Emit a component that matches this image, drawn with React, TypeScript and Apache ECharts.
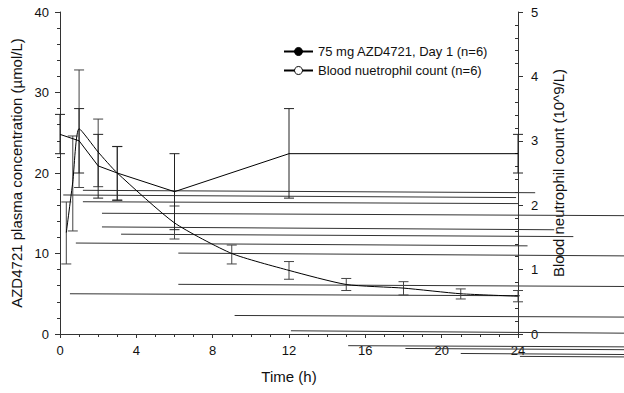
import React, { useEffect, useRef } from "react";
import * as echarts from "echarts";

// ---- Data ----
const xTicks = [0, 4, 8, 12, 16, 20, 24];
const leftTicks = [0, 10, 20, 30, 40];
const rightTicks = [0, 1, 2, 3, 4, 5];

const plasmaName = "75 mg AZD4721, Day 1 (n=6)";
const plasmaTime = [0.33, 0.67, 1, 2, 3, 6, 9, 12, 15, 18, 21, 24];
const plasmaMean = [12.6, 18.9, 25.5, 22.6, 20.0, 13.8, 10.0, 7.9, 6.15, 5.7, 5.0, 4.7];
const plasmaLow = [8.7, 12.8, 18.2, 18.3, 16.6, 11.8, 8.7, 6.8, 5.4, 4.85, 4.35, 4.0];
const plasmaHigh = [16.4, 24.6, 32.8, 26.7, 23.3, 15.9, 11.05, 9.0, 6.9, 6.5, 5.6, 5.4];

const neutName = "Blood nuetrophil count (n=6)";
const neutTime = [0, 1, 2, 3, 6, 12, 24];
const neutMean = [3.1, 3.0, 2.61, 2.5, 2.21, 2.8, 2.8];
const neutLow = [2.8, 2.5, 2.11, 2.08, 1.62, 2.11, 2.5];
const neutHigh = [3.41, 3.5, 3.1, 2.91, 2.8, 3.5, 3.1];

// stray horizontal strokes present in the reference (time h, left-axis units)
const strayT1 = [1.2, 0.17, 1.2, 2.2, 2.2, 3.2, 0.83, 6.2, 6.2, 0.52, 9.15, 12.1, 15.1, 18.1, 21.0, 24.1];
const strayV1 = [17.85, 17.27, 16.43, 15.0, 13.3, 12.4, 11.3, 10.05, 6.17, 5.0, 2.3, 0.4, -1.45, -1.8, -2.42, -2.78];
const strayT2 = [24.9, 23.9, 24.0, 29.7, 25.9, 26.9, 24.5, 29.7, 29.7, 24.1, 29.7, 29.7, 29.7, 29.7, 29.7, 29.7];
const strayV2 = [17.55, 16.95, 16.2, 14.7, 12.95, 12.1, 10.95, 9.7, 5.9, 4.75, 2.1, 0.1, -1.6, -1.95, -2.55, -2.85];

const FONT = "'Liberation Sans', Arial, Helvetica, sans-serif";

function errorBarRender(color: string) {
  return (params: any, api: any) => {
    const x = api.value(0);
    const lo = api.coord([x, api.value(1)]);
    const hi = api.coord([x, api.value(2)]);
    const w = 5;
    const style = { stroke: color, lineWidth: 1 };
    return {
      type: "group",
      children: [
        { type: "line", shape: { x1: lo[0], y1: lo[1], x2: hi[0], y2: hi[1] }, style },
        { type: "line", shape: { x1: lo[0] - w, y1: lo[1], x2: lo[0] + w, y2: lo[1] }, style },
        { type: "line", shape: { x1: hi[0] - w, y1: hi[1], x2: hi[0] + w, y2: hi[1] }, style },
      ],
    };
  };
}

export default function App() {
  const ref = useRef<HTMLDivElement>(null);
  useEffect(() => {
    if (!ref.current) return;
    const chart = echarts.init(ref.current, undefined, { renderer: "svg" });
    const axisColor = "#333";
    const nameStyle = { fontSize: 15, color: "#111", fontFamily: FONT };
    const labelStyle = { fontSize: 13, color: "#111", fontFamily: FONT };
    const option: any = {
      animation: false,
      backgroundColor: "#fff",
      textStyle: { fontFamily: FONT },
      grid: { left: 60, right: 106, top: 12, bottom: 59, containLabel: false },
      legend: {
        orient: "vertical",
        left: 283,
        top: 45,
        padding: 0,
        itemGap: 6,
        itemWidth: 29,
        itemHeight: 10,
        textStyle: { fontSize: 13, color: "#111", fontFamily: FONT },
        data: [
          { name: plasmaName, itemStyle: { color: "#000", borderColor: "#000", borderWidth: 1 } },
          { name: neutName, itemStyle: { color: "#fff", borderColor: "#000", borderWidth: 1 } },
        ],
      },
      xAxis: {
        type: "value",
        min: xTicks[0],
        max: xTicks[xTicks.length - 1],
        interval: xTicks[1] - xTicks[0],
        name: "Time (h)",
        nameLocation: "middle",
        nameGap: 35,
        nameTextStyle: nameStyle,
        axisLine: { lineStyle: { color: axisColor, width: 1 } },
        axisTick: { length: 4, lineStyle: { color: axisColor } },
        minorTick: { show: true, splitNumber: 4, length: 3, lineStyle: { color: axisColor } },
        splitLine: { show: false },
        axisLabel: { margin: 10, ...labelStyle },
      },
      yAxis: [
        {
          type: "value",
          position: "left",
          min: leftTicks[0],
          max: leftTicks[leftTicks.length - 1],
          interval: leftTicks[1] - leftTicks[0],
          name: "AZD4721 plasma concentration (µmol/L)",
          nameLocation: "middle",
          nameGap: 35,
          nameTextStyle: nameStyle,
          axisLine: { show: true, lineStyle: { color: axisColor } },
          axisTick: { show: true, length: 5, lineStyle: { color: axisColor } },
          minorTick: { show: true, splitNumber: 5, length: 3, lineStyle: { color: axisColor } },
          splitLine: { show: false },
          axisLabel: { margin: 11, ...labelStyle },
        },
        {
          type: "value",
          position: "right",
          min: rightTicks[0],
          max: rightTicks[rightTicks.length - 1],
          interval: rightTicks[1] - rightTicks[0],
          name: "Blood neutrophil count (10^9/L)",
          nameLocation: "middle",
          nameGap: 33,
          nameTextStyle: nameStyle,
          axisLine: { show: true, lineStyle: { color: axisColor } },
          axisTick: { show: true, length: 5, lineStyle: { color: axisColor } },
          minorTick: { show: false },
          splitLine: { show: false },
          axisLabel: { margin: 13, ...labelStyle },
        },
        {
          type: "value",
          position: "right",
          min: rightTicks[0],
          max: rightTicks[rightTicks.length - 1],
          interval: rightTicks[1] - rightTicks[0],
          axisLine: { show: false },
          axisTick: { show: false, inside: true },
          minorTick: { show: true, splitNumber: 5, length: 3, lineStyle: { color: axisColor } },
          splitLine: { show: false },
          axisLabel: { show: false },
        },
      ],
      series: [
        {
          name: "stray",
          type: "custom",
          xAxisIndex: 0,
          yAxisIndex: 0,
          clip: false,
          silent: true,
          z: 1,
          encode: { x: [0, 2], y: [1, 3] },
          data: strayT1.map((t, i) => [t, strayV1[i], strayT2[i], strayV2[i]]),
          renderItem: (params: any, api: any) => {
            const p1 = api.coord([api.value(0), api.value(1)]);
            const p2 = api.coord([api.value(2), api.value(3)]);
            return {
              type: "line",
              shape: { x1: p1[0], y1: p1[1], x2: p2[0], y2: p2[1] },
              style: { stroke: "#333", lineWidth: 1 },
            };
          },
        },
        {
          name: "plasmaErr",
          type: "custom",
          xAxisIndex: 0,
          yAxisIndex: 0,
          z: 2,
          encode: { x: 0, y: [1, 2] },
          data: plasmaTime.map((t, i) => [t, plasmaLow[i], plasmaHigh[i]]),
          renderItem: errorBarRender("#444"),
        },
        {
          name: "neutErr",
          type: "custom",
          xAxisIndex: 0,
          yAxisIndex: 1,
          z: 2,
          encode: { x: 0, y: [1, 2] },
          data: neutTime.map((t, i) => [t, neutLow[i], neutHigh[i]]),
          renderItem: errorBarRender("#222"),
        },
        {
          name: plasmaName,
          type: "line",
          xAxisIndex: 0,
          yAxisIndex: 0,
          z: 3,
          smooth: 0.2,
          showSymbol: false,
          symbol: "circle",
          symbolSize: 7,
          itemStyle: { color: "#000" },
          lineStyle: { color: "#000", width: 1 },
          data: plasmaTime.map((t, i) => [t, plasmaMean[i]]),
        },
        {
          name: neutName,
          type: "line",
          xAxisIndex: 0,
          yAxisIndex: 1,
          z: 3,
          showSymbol: false,
          symbol: "circle",
          symbolSize: 7,
          itemStyle: { color: "#fff", borderColor: "#000", borderWidth: 1 },
          lineStyle: { color: "#000", width: 1 },
          data: neutTime.map((t, i) => [t, neutMean[i]]),
        },
      ],
    };
    chart.setOption(option);
    return () => chart.dispose();
  }, []);
  return (
    <div
      ref={ref}
      style={{ position: "fixed", left: 0, top: 0, width: 624, height: 393, background: "#fff" }}
    />
  );
}
